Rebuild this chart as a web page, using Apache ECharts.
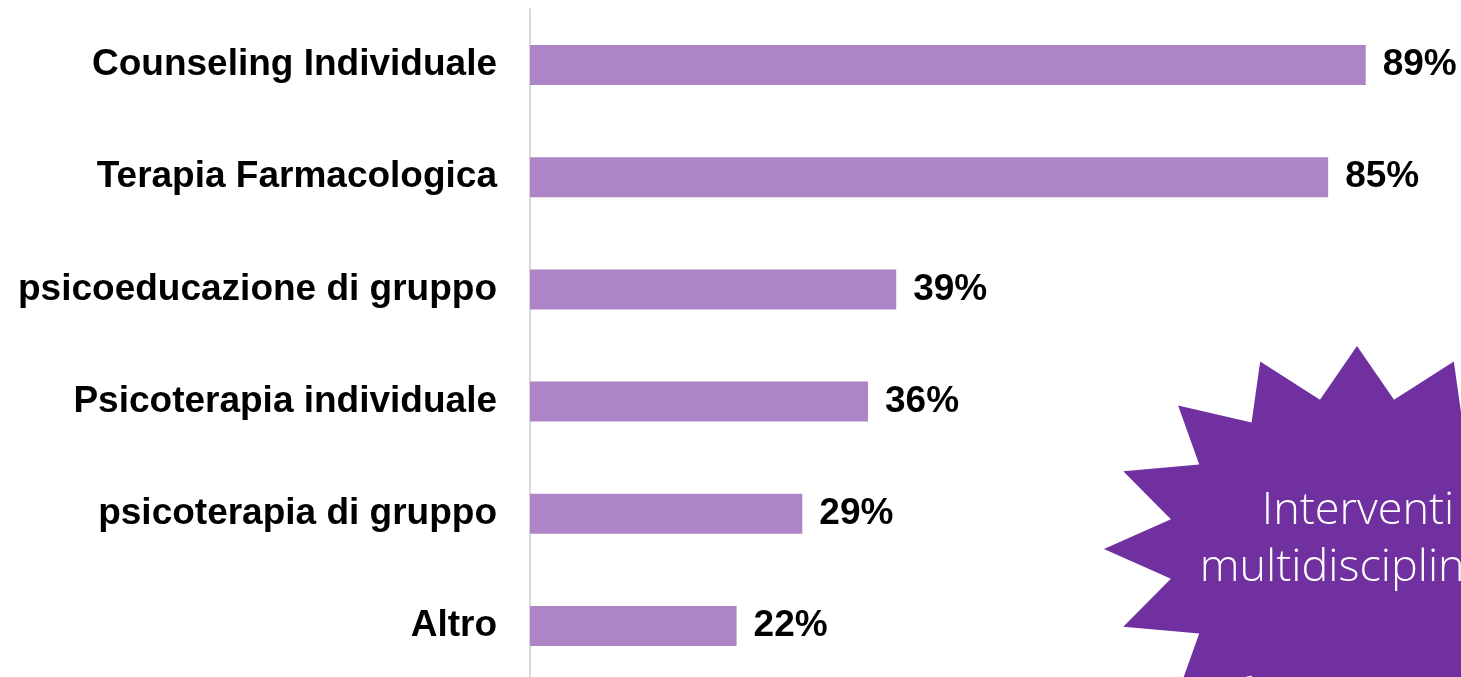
<!DOCTYPE html>
<html>
<head>
<meta charset="utf-8">
<script src="https://cdn.jsdelivr.net/npm/echarts@6/dist/echarts.min.js"></script>
<style>
  html, body { margin: 0; padding: 0; background: #ffffff; }
  #chart { width: 1461px; height: 677px; }
</style>
</head>
<body>
<div id="chart"></div>
<script>
// Interventions offered, share of services (%)
const categories = [
  'Counseling Individuale',
  'Terapia Farmacologica',
  'psicoeducazione di gruppo',
  'Psicoterapia individuale',
  'psicoterapia di gruppo',
  'Altro'
];
const values = [89, 85, 39, 36, 29, 22];

const calloutLines = ['Interventi', 'multidisciplinari'];

// 16-point starburst callout, built from centre, radii and inner ratio
function starPoints(cx, cy, rx, ry, inner, n) {
  const pts = [];
  for (let i = 0; i < n * 2; i++) {
    const a = -Math.PI / 2 + i * Math.PI / n;
    const r = i % 2 === 0 ? 1 : inner;
    pts.push([cx + Math.cos(a) * rx * r, cy + Math.sin(a) * ry * r]);
  }
  return pts;
}

const chart = echarts.init(document.getElementById('chart'), null, { renderer: 'canvas' });

const labelFont = {
  fontFamily: '"Liberation Sans", Arial, sans-serif',
  fontWeight: 'bold',
  fontSize: 37,
  color: '#000000'
};

chart.setOption({
  animation: false,
  backgroundColor: '#ffffff',
  grid: {
    left: 530, top: 9, width: 939, height: 673,
    containLabel: false,
    outerBoundsMode: 'none'
  },
  xAxis: {
    type: 'value',
    min: 0,
    max: 100,
    show: false
  },
  yAxis: {
    type: 'category',
    data: categories,
    inverse: true,
    axisTick: { show: false },
    axisLine: { show: true, lineStyle: { color: '#d9d9d9', width: 2 } },
    axisLabel: Object.assign({ margin: 33 }, labelFont),
    splitLine: { show: false }
  },
  series: [{
    type: 'bar',
    data: values,
    barWidth: 40,
    itemStyle: { color: '#AD84C6' },
    label: Object.assign({
      show: true,
      position: 'right',
      distance: 17,
      formatter: '{c}%'
    }, labelFont)
  }],
  graphic: [
    {
      type: 'polygon',
      z: 10,
      shape: { points: starPoints(1357, 549, 253, 203, 0.75, 16) },
      style: { fill: '#7030A0' }
    },
    {
      type: 'text',
      z: 11,
      x: 1358,
      y: 483,
      style: {
        text: calloutLines.join('\n'),
        fill: '#ffffff',
        font: '300 45px "Open Sans", "Noto Sans", sans-serif',
        lineHeight: 57,
        align: 'center',
        verticalAlign: 'top'
      }
    }
  ]
});
</script>
</body>
</html>
